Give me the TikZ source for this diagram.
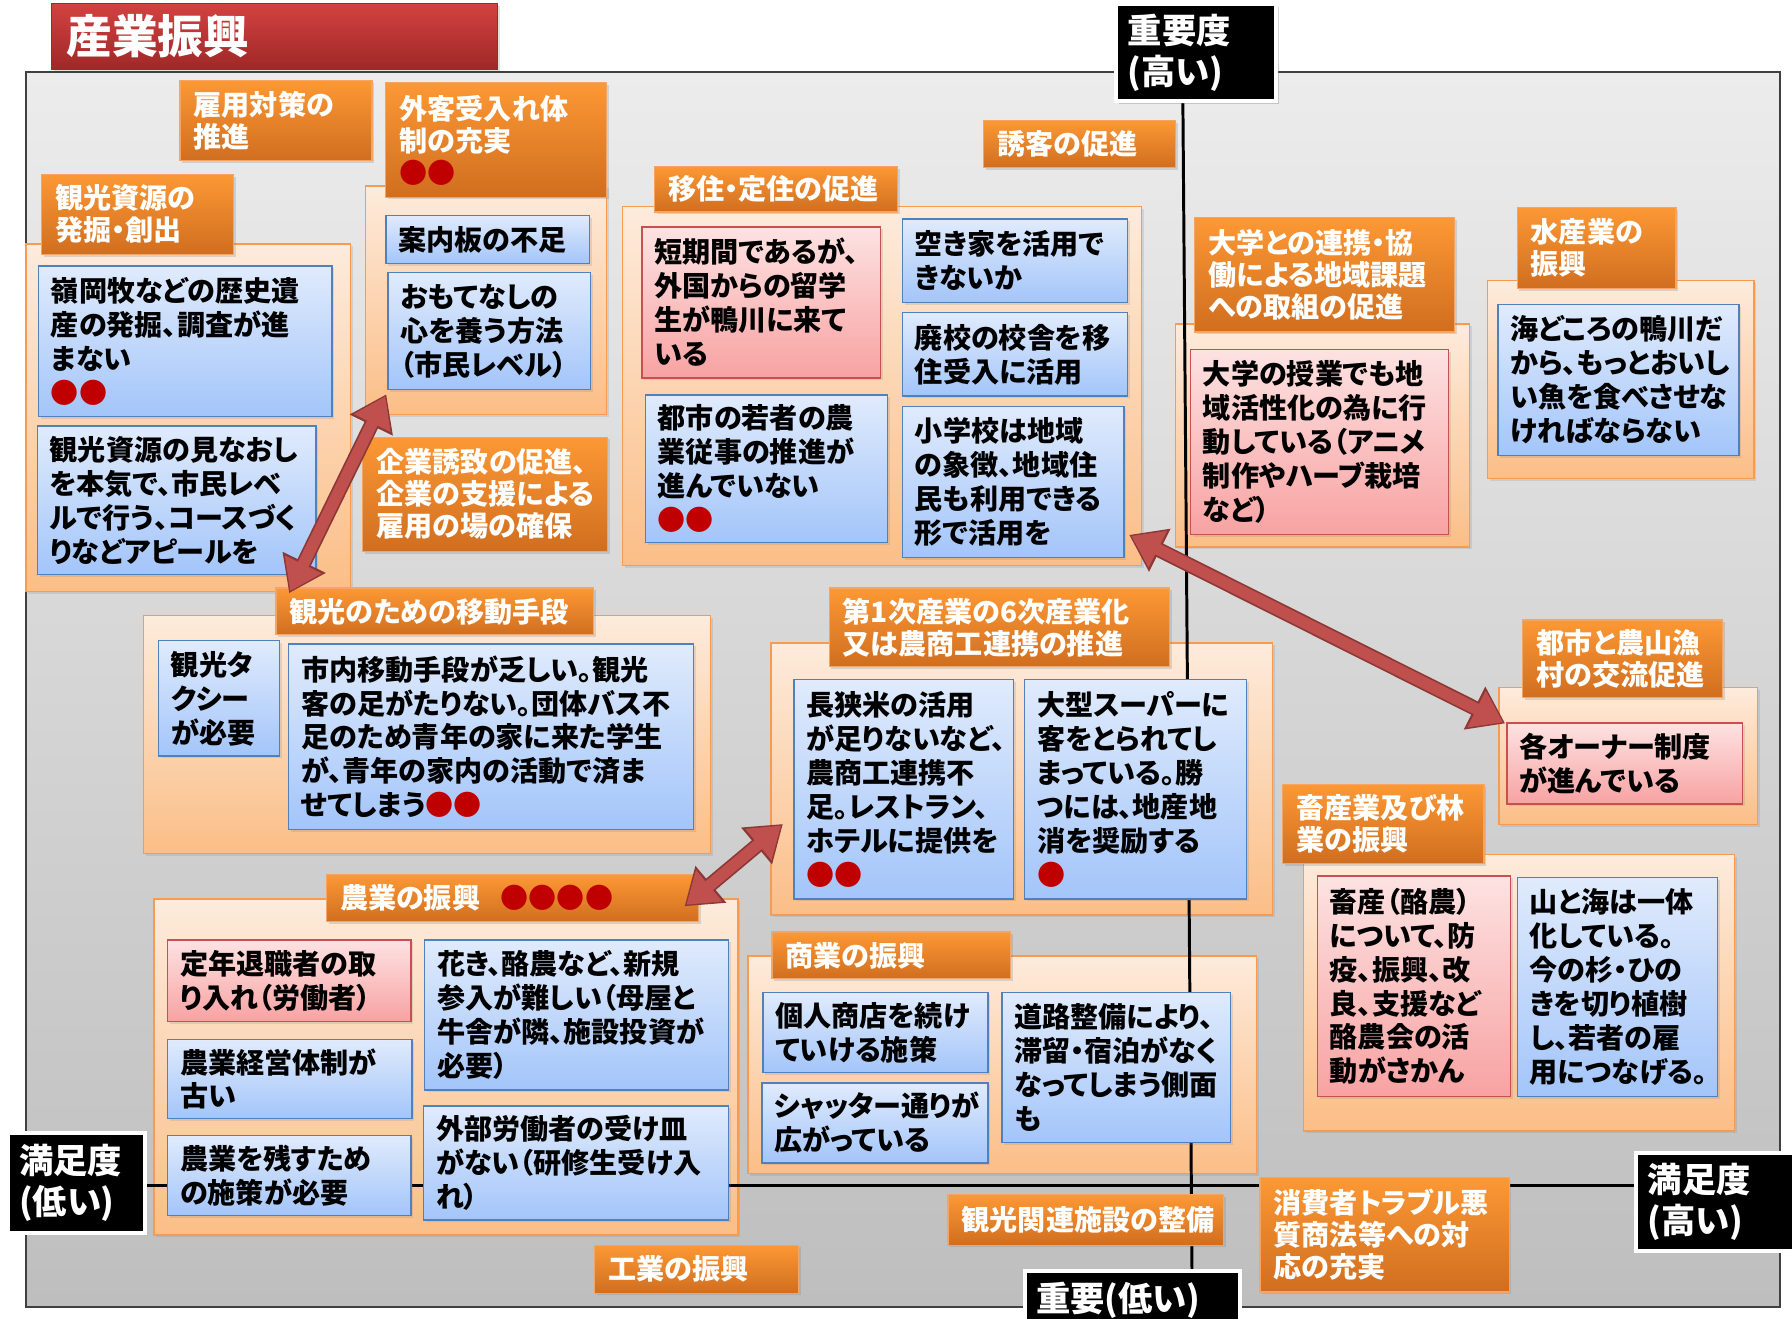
\documentclass[tikz,border=0pt]{standalone}
\usepackage{fontspec}
\setmainfont{Noto Sans CJK JP}[RawFeature=+palt]
\usetikzlibrary{arrows.meta,shadows}
\definecolor{titleTop}{RGB}{210,66,64}
\definecolor{titleBot}{RGB}{160,40,40}
\definecolor{hdrTop}{RGB}{252,152,52}
\definecolor{hdrBot}{RGB}{208,110,32}
\definecolor{hdrBd}{RGB}{244,165,100}
\definecolor{panelTop}{RGB}{253,235,220}
\definecolor{panelBot}{RGB}{251,190,135}
\definecolor{panelBd}{RGB}{247,155,80}
\definecolor{blueTop}{RGB}{224,235,252}
\definecolor{blueBot}{RGB}{163,197,250}
\definecolor{blueBd}{RGB}{79,129,189}
\definecolor{pinkTop}{RGB}{253,226,226}
\definecolor{pinkBot}{RGB}{248,162,162}
\definecolor{pinkBd}{RGB}{200,80,80}
\definecolor{frameTop}{RGB}{236,236,236}
\definecolor{frameBot}{RGB}{190,190,190}
\definecolor{frameBd}{RGB}{64,64,64}
\definecolor{arrFill}{RGB}{192,80,77}
\definecolor{arrBd}{RGB}{140,56,54}
\definecolor{dotred}{RGB}{192,0,0}
\newcommand\myBody{\fontsize{24.6}{29.7}\selectfont\bfseries}
\newcommand\myHdr{\fontsize{24.6}{28}\selectfont\bfseries}
\newcommand\myAx{\fontsize{30}{36}\selectfont\bfseries}
\newcommand\myTitle{\fontsize{40}{44}\selectfont\bfseries}
\newcommand\redmarks[1]{{\color{dotred}#1}}
\newcommand\tbox[8]{\node[#1, minimum width=#5pt, minimum height=#6pt, text width=#7pt] (#2) at (#3,#4) {#8};}
\newcommand\pbox[6]{\node[#1, minimum width=#5pt, minimum height=#6pt] (#2) at (#3,#4) {};}
\tikzset{
  base/.style={anchor=north west, align=left, inner xsep=11pt, inner ysep=3pt},
  bluebox/.style={base, draw=blueBd, line width=1.2pt, top color=blueTop, bottom color=blueBot, font=\myBody, text=black,
    drop shadow={opacity=0.2, shadow xshift=2pt, shadow yshift=-2pt}},
  pinkbox/.style={base, draw=pinkBd, line width=1.2pt, top color=pinkTop, bottom color=pinkBot, font=\myBody, text=black,
    drop shadow={opacity=0.2, shadow xshift=2pt, shadow yshift=-2pt}},
  hdr/.style={base, inner xsep=12pt, draw=hdrBd, line width=1pt, top color=hdrTop, bottom color=hdrBot, font=\myHdr, text=white,
    drop shadow={opacity=0.25, shadow xshift=2pt, shadow yshift=-2pt}},
  panel/.style={anchor=north west, inner sep=0pt, draw=panelBd, line width=1.2pt, top color=panelTop, bottom color=panelBot,
    drop shadow={opacity=0.2, shadow xshift=2pt, shadow yshift=-2pt}},
  axlab/.style={anchor=north west, align=left, inner xsep=10pt, fill=black, draw=white, line width=3.5pt, text=white, font=\myAx,
    drop shadow={opacity=0.35, shadow xshift=2pt, shadow yshift=-2pt}},
  axisline/.style={line width=2.6pt, draw=black},
  arrowout/.style={line width=13pt, draw=arrBd, {Triangle[length=30pt,width=40pt]}-{Triangle[length=30pt,width=40pt]}},
  arrowin/.style={line width=10pt, draw=arrFill, shorten >=2pt, shorten <=2pt, {Triangle[length=26pt,width=34pt]}-{Triangle[length=26pt,width=34pt]}},
}
\begin{document}
\begin{tikzpicture}[x=1pt,y=-1pt]
\useasboundingbox (0,0) rectangle (1568,1154);
\fill[white] (0,0) rectangle (1568,1154);
% main frame
\node[anchor=north west, inner sep=0pt, minimum width=1535pt, minimum height=1081pt, draw=frameBd, line width=1.5pt, top color=frameTop, bottom color=frameBot] (frame) at (22,62) {};
% title
\node[anchor=north west, align=left, inner xsep=13pt, minimum width=390pt, minimum height=57pt, top color=titleTop, bottom color=titleBot, draw=titleBot, text=white, font=\myTitle,
  drop shadow={opacity=0.25, shadow xshift=2pt, shadow yshift=-2pt}, text width=364pt] (title) at (45,3) {産業振興};
% panels
\pbox{panel}{pA}{22}{213}{284}{304}
\pbox{panel}{pB}{319}{162}{211}{200}
\pbox{panel}{pC}{544}{180}{454}{314}
\pbox{panel}{pD}{1028}{283}{257}{195}
\pbox{panel}{pE}{1301}{245}{233}{173}
\pbox{panel}{pF}{125}{538}{496}{208}
\pbox{panel}{pG}{674}{562}{439}{238}
\pbox{panel}{pH}{1311}{601}{226}{120}
\pbox{panel}{pI}{1140}{747}{377}{242}
\pbox{panel}{pJ}{134}{786}{511}{294}
\pbox{panel}{pK}{654}{836}{445}{190}
% axis lines
\coordinate (vt) at (1035,88);
\coordinate (vb) at (1043,1112);
\coordinate (hl) at (125,1037);
\coordinate (hr) at (1430,1037);
\draw[axisline] (vt) -- (vb);
\draw[axisline] (hl) -- (hr);
% headers
\tbox{hdr}{h1}{157}{70}{168}{70}{144}{雇用対策の\\推進}
\tbox{hdr}{h2}{337}{72}{193}{100}{169}{外客受入れ体\\制の充実\\\redmarks{●●}}
\tbox{hdr}{h3}{36}{152}{168}{70}{144}{観光資源の\\発掘・創出}
\tbox{hdr}{h4}{572}{145}{213}{40}{189}{移住・定住の促進}
\tbox{hdr}{h5}{860}{105}{168}{41}{144}{誘客の促進}
\tbox{hdr}{h6}{1045}{190}{227}{100}{203}{大学との連携・協\\働による地域課題\\への取組の促進}
\tbox{hdr}{h7}{1327}{181}{139}{71}{115}{水産業の\\振興}
\tbox{hdr}{h8}{317}{382}{214}{100}{190}{企業誘致の促進、\\企業の支援による\\雇用の場の確保}
\tbox{hdr}{h9}{241}{514}{278}{41}{254}{観光のための移動手段}
\tbox{hdr}{h10}{725}{514}{298}{69}{274}{第1次産業の6次産業化\\又は農商工連携の推進}
\tbox{hdr}{h11}{1332}{542}{175}{68}{151}{都市と農山漁\\村の交流促進}
\tbox{hdr}{h12}{1122}{686}{176}{69}{152}{畜産業及び林\\業の振興}
\tbox{hdr}{h13}{285}{765}{326}{41}{302}{農業の振興\hspace{18pt}\redmarks{●●●●}}
\tbox{hdr}{h14}{675}{815}{209}{41}{185}{商業の振興}
\tbox{hdr}{h15}{829}{1045}{241}{44}{217}{観光関連施設の整備}
\tbox{hdr}{h16}{1102}{1030}{218}{100}{194}{消費者トラブル悪\\質商法等への対\\応の充実}
\tbox{hdr}{h17}{520}{1089}{178}{42}{154}{工業の振興}
% content boxes
\tbox{bluebox}{a1}{33}{232}{257}{132}{235}{嶺岡牧などの歴史遺\\産の発掘、調査が進\\まない\\\redmarks{●●}}
\tbox{bluebox}{a2}{32}{372}{244}{130}{222}{観光資源の見なおし\\を本気で、市民レベ\\ルで行う、コースづく\\りなどアピールを}
\tbox{bluebox}{b1}{337}{188}{178}{42}{156}{案内板の不足}
\tbox{bluebox}{b2}{339}{238}{177}{102}{155}{おもてなしの\\心を養う方法\\（市民レベル）}
\tbox{pinkbox}{c1}{561}{198}{209}{132}{187}{短期間であるが、\\外国からの留学\\生が鴨川に来て\\いる}
\tbox{bluebox}{c2}{789}{191}{197}{73}{175}{空き家を活用で\\きないか}
\tbox{bluebox}{c3}{789}{273}{197}{73}{175}{廃校の校舎を移\\住受入に活用}
\tbox{bluebox}{c4}{564}{345}{212}{129}{190}{都市の若者の農\\業従事の推進が\\進んでいない\\\redmarks{●●}}
\tbox{bluebox}{c5}{789}{355}{194}{132}{172}{小学校は地域\\の象徴、地域住\\民も利用できる\\形で活用を}
\tbox{pinkbox}{d1}{1041}{305}{226}{162}{204}{大学の授業でも地\\域活性化の為に行\\動している（アニメ\\制作やハーブ栽培\\など）}
\tbox{bluebox}{e1}{1310}{266}{211}{132}{189}{海どころの鴨川だ\\から、もっとおいし\\い魚を食べさせな\\ければならない}
\tbox{bluebox}{f1}{138}{560}{106}{101}{84}{観光タ\\クシー\\が必要}
\tbox{bluebox}{f2}{252}{563}{354}{162}{332}{市内移動手段が乏しい。観光\\客の足がたりない。団体バス不\\足のため青年の家に来た学生\\が、青年の家内の活動で済ま\\せてしまう\redmarks{●●}}
\tbox{bluebox}{g1}{694}{594}{192}{192}{170}{長狭米の活用\\が足りないなど、\\農商工連携不\\足。レストラン、\\ホテルに提供を\\\redmarks{●●}}
\tbox{bluebox}{g2}{896}{594}{194}{192}{172}{大型スーパーに\\客をとられてし\\まっている。勝\\つには、地産地\\消を奨励する\\\redmarks{●}}
\tbox{pinkbox}{hh1}{1318}{632}{206}{71}{184}{各オーナー制度\\が進んでいる}
\tbox{pinkbox}{i1}{1152}{766}{169}{193}{147}{畜産（酪農）\\について、防\\疫、振興、改\\良、支援など\\酪農会の活\\動がさかん}
\tbox{bluebox}{i2}{1327}{767}{175}{192}{153}{山と海は一体\\化している。\\今の杉・ひの\\きを切り植樹\\し、若者の雇\\用につなげる。}
\tbox{pinkbox}{j1}{146}{822}{213}{71}{191}{定年退職者の取\\り入れ（労働者）}
\tbox{bluebox}{j2}{146}{909}{214}{69}{192}{農業経営体制が\\古い}
\tbox{bluebox}{j3}{146}{993}{213}{70}{191}{農業を残すため\\の施策が必要}
\tbox{bluebox}{j4}{371}{822}{266}{131}{244}{花き、酪農など、新規\\参入が難しい（母屋と\\牛舎が隣、施設投資が\\必要）}
\tbox{bluebox}{j5}{370}{967}{267}{100}{245}{外部労働者の受け皿\\がない（研修生受け入\\れ）}
\tbox{bluebox}{k1}{667}{868}{197}{70}{175}{個人商店を続け\\ていける施策}
\tbox{bluebox}{k2}{666}{947}{198}{70}{176}{シャッター通りが\\広がっている}
\tbox{bluebox}{k3}{876}{868}{200}{131}{178}{道路整備により、\\滞留・宿泊がなく\\なってしまう側面\\も}
% axis labels
\tbox{axlab}{topl}{975}{2}{140}{85}{120}{重要度\\(高い)}
\tbox{axlab}{botl}{895}{1110}{188}{52}{168}{重要(低い)}
\tbox{axlab}{leftl}{5}{990}{120}{87}{100}{満足度\\(低い)}
\tbox{axlab}{rightl}{1430}{1007}{145}{86}{125}{満足度\\(高い)}
% arrows
\coordinate (a1p) at (338,345);
\coordinate (a1q) at (253,519);
\coordinate (a2p) at (988,468);
\coordinate (a2q) at (1317,633);
\coordinate (a3p) at (685,721);
\coordinate (a3q) at (599,793);
\draw[arrowout] (a1p) -- (a1q);
\draw[arrowin] (a1p) -- (a1q);
\draw[arrowout] (a2p) -- (a2q);
\draw[arrowin] (a2p) -- (a2q);
\draw[arrowout] (a3p) -- (a3q);
\draw[arrowin] (a3p) -- (a3q);
\end{tikzpicture}
\end{document}
